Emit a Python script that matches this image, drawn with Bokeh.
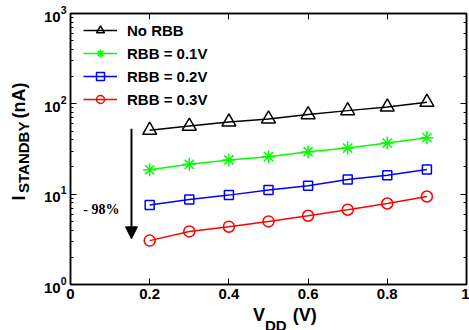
import math
from bokeh.plotting import figure
from bokeh.layouts import row, column
from bokeh.models import (Label, Arrow, NormalHead, LinearAxis, LogAxis, FixedTicker,
                          LogTicker, CustomLabelingPolicy, Div)
from bokeh.core.properties import value
from bokeh.embed import file_html
from bokeh.resources import INLINE

# ---- data ----
vdd = [0.2, 0.3, 0.4, 0.5, 0.6, 0.7, 0.8, 0.9]
no_rbb = [51.0, 56.7, 62.9, 68.1, 76.0, 84.1, 92.3, 104.0]
rbb_01 = [18.6, 21.4, 23.9, 26.0, 29.5, 32.4, 36.8, 42.2]
rbb_02 = [7.57, 8.73, 9.76, 11.1, 12.4, 14.5, 16.2, 18.7]
rbb_03 = [3.06, 3.87, 4.36, 4.99, 5.77, 6.72, 7.88, 9.42]
series_names = ["No RBB", "RBB = 0.1V", "RBB = 0.2V", "RBB = 0.3V"]
x_ticks = [0, 0.2, 0.4, 0.6, 0.8, 1]
x_tick_labels = ["0", "0.2", "0.4", "0.6", "0.8", "1"]
arrow_x = 0.154
arrow_y_start = 53.0
arrow_y_end = 3.2
note_text = "- 98%"
note_x = 0.078
note_y = 6.77

FONT = "Liberation Sans"
YLAB_W = 34
MAIN_W, MAIN_H = 469 - YLAB_W, 306
XLAB_H = 24
TOTAL_H = MAIN_H + XLAB_H

p = figure(width=MAIN_W, height=MAIN_H, x_range=(0, 1), y_range=(1, 1000),
           y_axis_type="log", output_backend="svg", toolbar_location=None,
           min_border_left=70 - YLAB_W, min_border_right=3, min_border_top=13,
           min_border_bottom=22)
p.grid.visible = False
p.outline_line_color = "black"
p.outline_line_width = 1.5
p.background_fill_color = "white"
p.border_fill_color = "white"

hide_policy = "for (const i of indices) { indices.unset(i) } return indices"


def style_axis(ax, labels=True):
    ax.axis_line_color = "black"
    ax.axis_line_width = 1.5
    ax.major_tick_line_color = "black"
    ax.minor_tick_line_color = "black"
    ax.major_tick_line_width = 1
    ax.minor_tick_line_width = 1
    ax.major_tick_in = 6
    ax.major_tick_out = 0
    ax.minor_tick_in = 3
    ax.minor_tick_out = 0
    ax.axis_label = None
    if labels:
        ax.major_label_text_font = FONT
        ax.major_label_text_font_style = "bold"
        ax.major_label_text_font_size = "15px"
        ax.major_label_text_color = "black"
        ax.major_label_standoff = 4
    else:
        ax.major_label_text_font_size = "1px"
        ax.major_label_text_alpha = 0
        ax.major_label_standoff = 0
        ax.major_label_policy = CustomLabelingPolicy(code=hide_policy)


xax = p.below[0]
xax.ticker = FixedTicker(ticks=x_ticks, minor_ticks=[])
xax.major_label_overrides = dict(zip(x_ticks, x_tick_labels))
style_axis(xax)

yax = p.left[0]
style_axis(yax)

top = LinearAxis(ticker=FixedTicker(ticks=x_ticks, minor_ticks=[]))
style_axis(top, labels=False)
p.add_layout(top, "above")

right = LogAxis(ticker=LogTicker())
style_axis(right, labels=False)
p.add_layout(right, "right")

specs = [
    (no_rbb, "black", "triangle", 14),
    (rbb_01, "#00ff00", "asterisk", 13),
    (rbb_02, "#0000ff", "square", 9),
    (rbb_03, "#ff0000", "circle", 11),
]
for name, (vals, color, marker, size) in zip(series_names, specs):
    p.line(vdd, vals, line_color=color, line_width=1.5, legend_label=name)
    p.scatter(vdd, vals, marker=marker, size=size, line_color=color,
              fill_color=None, line_width=1.5, legend_label=name)

lg = p.legend[0]
lg.location = (13, 175)
lg.padding = 0
lg.margin = 0
lg.spacing = 3
lg.glyph_width = 34
lg.glyph_height = 20
lg.label_height = 20
lg.label_standoff = 10
lg.border_line_color = None
lg.background_fill_alpha = 0
lg.label_text_font = FONT
lg.label_text_font_style = "bold"
lg.label_text_font_size = "15px"
lg.label_text_color = "black"

# arrow and annotation
p.add_layout(Arrow(end=NormalHead(size=12, fill_color="black", line_color="black"),
                   x_start=arrow_x, y_start=arrow_y_start, x_end=arrow_x, y_end=arrow_y_end,
                   line_width=2, line_color="black"))
p.add_layout(Label(x=note_x, y=note_y, text=note_text, text_font="Liberation Serif",
                   text_font_style="bold", text_font_size="14px", text_align="center",
                   text_baseline="middle", text_color="black"))


def label_fig(w, h):
    f = figure(width=w, height=h, x_range=(0, w), y_range=(0, h), title=None,
               output_backend="svg", toolbar_location=None,
               x_axis_location=None, y_axis_location=None,
               min_border=0, min_border_left=0, min_border_right=0,
               min_border_top=0, min_border_bottom=0)
    f.grid.visible = False
    f.outline_line_color = None
    f.background_fill_color = "white"
    f.border_fill_color = "white"
    return f


def put(f, x, y, text, size, angle=0.0):
    # x, y are the centre of the text, in pixels inside the strip
    f.text(x=[x], y=[y], text=[text], angle=angle, text_font=value(FONT),
           text_font_style="bold", text_font_size=size, text_align="center",
           text_baseline="middle", text_color="black")


# y axis label: I_STANDBY (nA)  (centres in page pixels, y measured from top)
yl = label_fig(YLAB_W, TOTAL_H)
r90 = math.pi / 2
put(yl, 18.7, TOTAL_H - 197.5, "I", "18px", r90)
put(yl, 23.2, TOTAL_H - 156.8, "STANDBY", "15px", r90)
put(yl, 18.7, TOTAL_H - 100, "(nA)", "18px", r90)

# x axis label: V_DD (V) as HTML text with a real subscript
xl_html = (
    '<div style="font-family: \'Liberation Sans\', Arial, sans-serif; font-weight: bold; '
    'font-size: 18px; line-height: 18px; color: black; white-space: nowrap; '
    'padding-left: %dpx; margin: 0;">'
    'V<span style="font-size: 15px; position: relative; top: 10px;">DD</span>'
    '<span style="margin-left: 6px;">(V)</span></div>' % (253 - YLAB_W)
)
xl = Div(text=xl_html, width=MAIN_W, height=XLAB_H, margin=0)

layout = row(yl, column(p, xl, spacing=0), spacing=0)
open("out.html", "w").write(file_html(layout, INLINE))
